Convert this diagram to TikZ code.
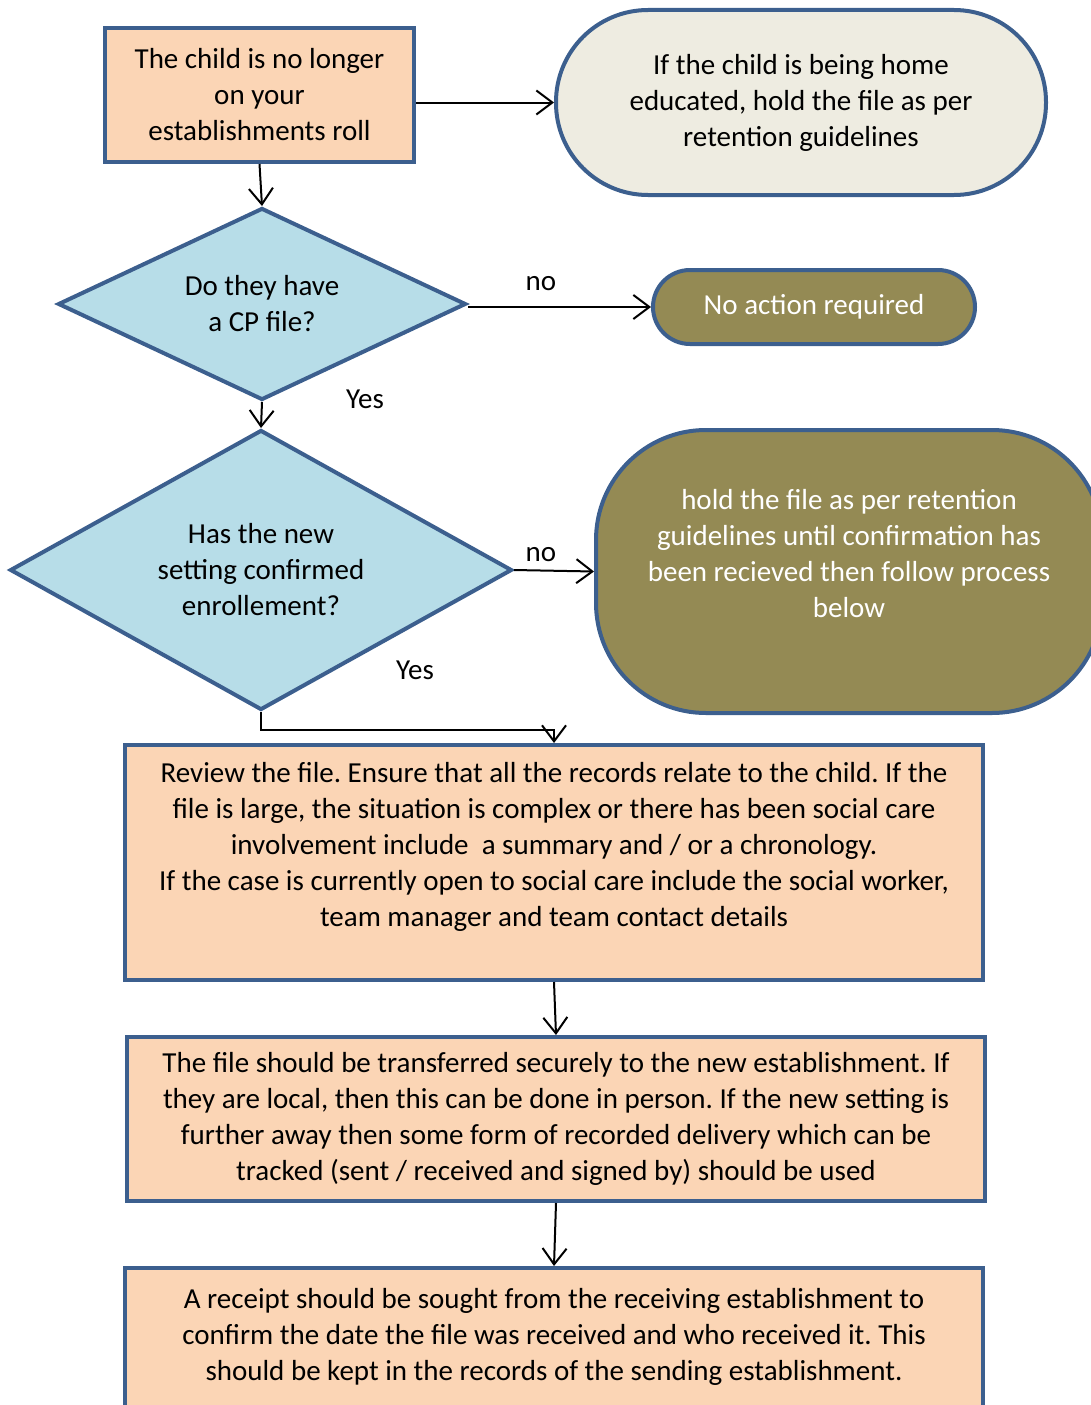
\documentclass[tikz,border=0pt]{standalone}
\usepackage{fontspec}
\setmainfont{Carlito}
\usepackage{tikz}
\usetikzlibrary{arrows.meta,shapes.geometric,positioning}
\definecolor{boxpeach}{HTML}{FBD5B5}
\definecolor{boxblue}{HTML}{3C5F8E}
\definecolor{decisionblue}{HTML}{B7DDE8}
\definecolor{homecream}{HTML}{EEECE1}
\definecolor{holdolive}{HTML}{948A54}
\frenchspacing

\begin{document}
\begin{tikzpicture}[x=1pt, y=1pt, font=\fontsize{29}{36}\selectfont]
      \clip (0,0) rectangle (1091,-1405);

      \begin{scope}[every node/.style={draw=boxblue, line width=4, align=center, inner sep=0}]
          \node[rectangle, fill=boxpeach, minimum width=309, minimum height=134] (roll) at (259.5,-95)
              {The child is no longer\\on your\\establishments roll};
          \node[rectangle, rounded corners=92, fill=homecream, minimum width=490, minimum height=185] (home) at (801,-102.5)
              {If the child is being home\\educated, hold the file as per\\retention guidelines};
          \node[diamond, aspect=2.1, fill=decisionblue, minimum width=408, minimum height=192] (cp) at (262,-304)
              {Do they have\\a CP file?};
          \node[rectangle, rounded corners=37, fill=holdolive, text=white, minimum width=322, minimum height=74] (none) at (814,-307)
              {No action required};
          \node[diamond, aspect=1.8, fill=decisionblue, minimum width=502, minimum height=280] (enrol) at (261,-570)
              {Has the new\\setting confirmed\\enrollement?};
          \node[rectangle, rounded corners=110, fill=holdolive, text=white, minimum width=506, minimum height=283] (hold) at (849,-571.5)
              {hold the file as per retention\\guidelines until confirmation has\\been recieved then follow process\\below\\\mbox{}};
          \node[rectangle, fill=boxpeach, minimum width=858, minimum height=235] (review) at (554,-862.5)
              {Review the file. Ensure that all the records relate to the child. If the\\file is large, the situation is complex or there has been social care\\involvement include\ \ a summary and / or a chronology.\\If the case is currently open to social care include the social worker,\\team manager and team contact details\\\mbox{}};
          \node[rectangle, fill=boxpeach, minimum width=858, minimum height=164] (transfer) at (556,-1119)
              {The file should be transferred securely to the new establishment. If\\they are local, then this can be done in person. If the new setting is\\further away then some form of recorded delivery which can be\\tracked (sent / received and signed by) should be used};
          \node[rectangle, fill=boxpeach, minimum width=858, minimum height=168] (receipt) at (554,-1352)
              {A receipt should be sought from the receiving establishment to\\confirm the date the file was received and who received it. This\\should be kept in the records of the sending establishment.\\\mbox{}};
      \end{scope}

      \node (cpno) at (541,-284) {no};
      \node (cpyes) at (365,-399) {Yes};
      \node (enrolno) at (541,-555) {no};
      \node (enrolyes) at (415,-670) {Yes};

      \begin{scope}[>={Straight Barb[length=16, width=24]}, line width=2,
                    every edge/.style={draw}]
          \path [->] (roll.east |- home.west) edge (home.west);
          \path [->] (roll.south) edge (cp.north);
          \path [->] (cp.east |- none.west) edge (none.west);
          \path [->] (cp.south) edge (enrol.north);
          \path [->] (enrol.east) edge (hold.west);
          \draw [->] (enrol.south) -- ++(0,-18) -| (review.north);
          \path [->] (review.south) edge (transfer.north);
          \path [->] (transfer.south) edge (receipt.north);
      \end{scope}
\end{tikzpicture}
\end{document}
